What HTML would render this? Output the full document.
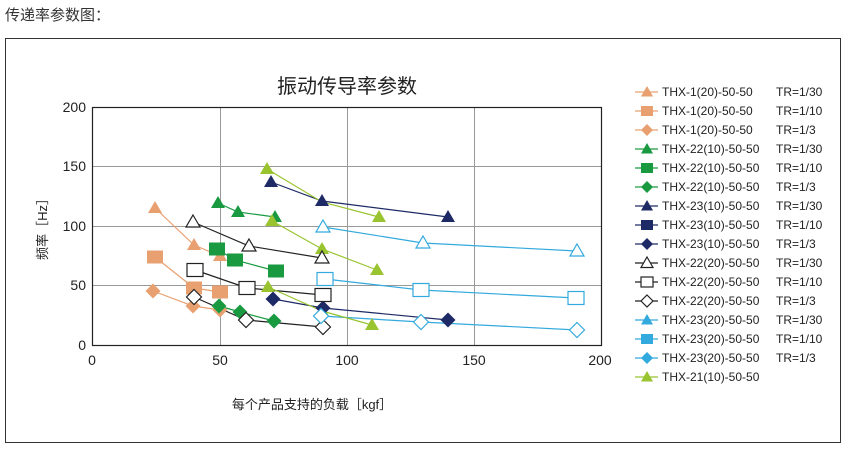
<!DOCTYPE html>
<html><head><meta charset="utf-8"><style>
html,body{margin:0;padding:0;background:#fff;}
svg{display:block;font-family:"Liberation Sans","Noto Sans CJK SC",sans-serif;}
</style></head><body>
<svg width="849" height="452" viewBox="0 0 849 452" xmlns="http://www.w3.org/2000/svg">
<defs>
<path id="tri" d="M0,-7 L7,5 L-7,5 Z"/>
<rect id="sq" x="-8" y="-6.5" width="16" height="13"/>
<path id="dia" d="M0,-7.5 L7.5,0 L0,7.5 L-7.5,0 Z"/>
<path id="ltri" d="M0,-6 L6,4.5 L-6,4.5 Z"/>
<rect id="lsq" x="-6" y="-5" width="12" height="10"/>
<path id="ldia" d="M0,-6 L6,0 L0,6 L-6,0 Z"/>
</defs>
<text x="5" y="20" font-size="15" fill="#333">传递率参数图：</text>
<rect x="5.5" y="38.5" width="835" height="404" fill="#fff" stroke="#333" stroke-width="1"/>
<text x="347" y="93" font-size="20" text-anchor="middle" fill="#222">振动传导率参数</text>
<g stroke="#999" stroke-width="1">
<line x1="220.5" y1="107" x2="220.5" y2="345"/>
<line x1="347.5" y1="107" x2="347.5" y2="345"/>
<line x1="474.5" y1="107" x2="474.5" y2="345"/>
<line x1="92" y1="166.5" x2="601" y2="166.5"/>
<line x1="92" y1="226.5" x2="601" y2="226.5"/>
<line x1="92" y1="285.5" x2="601" y2="285.5"/>
</g>
<rect x="92.5" y="107.5" width="509" height="238" fill="none" stroke="#222" stroke-width="1.2"/>
<g font-size="14" fill="#222" text-anchor="end">
<text x="86" y="112">200</text><text x="86" y="171">150</text><text x="86" y="231">100</text><text x="86" y="290">50</text><text x="86" y="350">0</text>
</g>
<g font-size="14" fill="#222" text-anchor="middle">
<text x="92" y="365">0</text><text x="220" y="365">50</text><text x="347" y="365">100</text><text x="474" y="365">150</text><text x="600" y="365">200</text>
</g>
<text transform="translate(47,226) rotate(-90)" font-size="13" text-anchor="middle" fill="#222">频率［Hz］</text>
<text x="312" y="409" font-size="13" text-anchor="middle" fill="#222">每个产品支持的负载［kgf］</text>

<g fill="none" stroke-width="1.2">
<polyline points="155,208 194,245 220,256" stroke="#e8a070"/>
<polyline points="155,257 194,288 220,292" stroke="#e8a070"/>
<polyline points="153,291 193,306 220,310" stroke="#e8a070"/>
<polyline points="218,203 238,212 275,217" stroke="#1a9a40"/>
<polyline points="217,249 235,260 276,271" stroke="#1a9a40"/>
<polyline points="219,306 240,312 274,321" stroke="#1a9a40"/>
<polyline points="271,182 322,201 448,217" stroke="#1e2a66"/>
<polyline points="273,299 323,308 448,320" stroke="#1e2a66"/>
<polyline points="193,222 249,246 322,258" stroke="#222"/>
<polyline points="195,270 247,288 323,295" stroke="#222"/>
<polyline points="194,297 246,320 323,327" stroke="#222"/>
<polyline points="323,227 423,243 577,251" stroke="#33aadd"/>
<polyline points="325,279 421,290 576,298" stroke="#33aadd"/>
<polyline points="321,316 421,322 577,330" stroke="#33aadd"/>
<polyline points="267,169 322,202 379,217" stroke="#99c430"/>
<polyline points="272,221 322,249 377,270" stroke="#99c430"/>
<polyline points="268,287 322,311 372,325" stroke="#99c430"/>
</g>
<g fill="#e8a070">
<use href="#tri" x="155" y="208"/><use href="#tri" x="194" y="245"/><use href="#tri" x="220" y="256"/>
<use href="#sq" x="155" y="257"/><use href="#sq" x="194" y="288"/><use href="#sq" x="220" y="292"/>
<use href="#dia" x="153" y="291"/><use href="#dia" x="193" y="306"/><use href="#dia" x="220" y="310"/>
</g>
<g fill="#1a9a40">
<use href="#tri" x="218" y="203"/><use href="#tri" x="238" y="212"/><use href="#tri" x="275" y="217"/>
<use href="#sq" x="217" y="249"/><use href="#sq" x="235" y="260"/><use href="#sq" x="276" y="271"/>
<use href="#dia" x="219" y="306"/><use href="#dia" x="240" y="312"/><use href="#dia" x="274" y="321"/>
</g>
<g fill="#99c430">
<use href="#tri" x="267" y="169"/><use href="#tri" x="379" y="217"/>
<use href="#tri" x="272" y="221"/><use href="#tri" x="322" y="249"/><use href="#tri" x="377" y="270"/>
<use href="#tri" x="268" y="287"/><use href="#tri" x="322" y="311"/><use href="#tri" x="372" y="325"/>
</g>
<g fill="#1e2a66">
<use href="#tri" x="271" y="182"/><use href="#tri" x="322" y="201"/><use href="#tri" x="448" y="217"/>
<use href="#dia" x="273" y="299"/><use href="#dia" x="323" y="308"/><use href="#dia" x="448" y="320"/>
</g>
<g fill="#fff" stroke="#222" stroke-width="1.2">
<use href="#tri" x="193" y="222"/><use href="#tri" x="249" y="246"/><use href="#tri" x="322" y="258"/>
<use href="#sq" x="195" y="270"/><use href="#sq" x="247" y="288"/><use href="#sq" x="323" y="295"/>
<use href="#dia" x="194" y="297"/><use href="#dia" x="246" y="320"/><use href="#dia" x="323" y="327"/>
</g>
<g fill="#fff" stroke="#33aadd" stroke-width="1.2">
<use href="#tri" x="323" y="227"/><use href="#tri" x="423" y="243"/><use href="#tri" x="577" y="251"/>
<use href="#sq" x="325" y="279"/><use href="#sq" x="421" y="290"/><use href="#sq" x="576" y="298"/>
<use href="#dia" x="321" y="316"/><use href="#dia" x="421" y="322"/><use href="#dia" x="577" y="330"/>
</g>

<g font-size="12" fill="#222" stroke-width="1.2">
<g transform="translate(0,92)"><line x1="635" x2="658" stroke="#e8a070"/><use href="#ltri" x="647" y="0" fill="#e8a070"/><text x="662" y="4">THX-1(20)-50-50</text><text x="776" y="4">TR=1/30</text></g>
<g transform="translate(0,111)"><line x1="635" x2="658" stroke="#e8a070"/><use href="#lsq" x="647" y="0" fill="#e8a070"/><text x="662" y="4">THX-1(20)-50-50</text><text x="776" y="4">TR=1/10</text></g>
<g transform="translate(0,130)"><line x1="635" x2="658" stroke="#e8a070"/><use href="#ldia" x="647" y="0" fill="#e8a070"/><text x="662" y="4">THX-1(20)-50-50</text><text x="776" y="4">TR=1/3</text></g>
<g transform="translate(0,149)"><line x1="635" x2="658" stroke="#1a9a40"/><use href="#ltri" x="647" y="0" fill="#1a9a40"/><text x="662" y="4">THX-22(10)-50-50</text><text x="776" y="4">TR=1/30</text></g>
<g transform="translate(0,168)"><line x1="635" x2="658" stroke="#1a9a40"/><use href="#lsq" x="647" y="0" fill="#1a9a40"/><text x="662" y="4">THX-22(10)-50-50</text><text x="776" y="4">TR=1/10</text></g>
<g transform="translate(0,187)"><line x1="635" x2="658" stroke="#1a9a40"/><use href="#ldia" x="647" y="0" fill="#1a9a40"/><text x="662" y="4">THX-22(10)-50-50</text><text x="776" y="4">TR=1/3</text></g>
<g transform="translate(0,206)"><line x1="635" x2="658" stroke="#1e2a66"/><use href="#ltri" x="647" y="0" fill="#1e2a66"/><text x="662" y="4">THX-23(10)-50-50</text><text x="776" y="4">TR=1/30</text></g>
<g transform="translate(0,225)"><line x1="635" x2="658" stroke="#1e2a66"/><use href="#lsq" x="647" y="0" fill="#1e2a66"/><text x="662" y="4">THX-23(10)-50-50</text><text x="776" y="4">TR=1/10</text></g>
<g transform="translate(0,244)"><line x1="635" x2="658" stroke="#1e2a66"/><use href="#ldia" x="647" y="0" fill="#1e2a66"/><text x="662" y="4">THX-23(10)-50-50</text><text x="776" y="4">TR=1/3</text></g>
<g transform="translate(0,263)"><line x1="635" x2="658" stroke="#222"/><use href="#ltri" x="647" y="0" fill="#fff" stroke="#222"/><text x="662" y="4">THX-22(20)-50-50</text><text x="776" y="4">TR=1/30</text></g>
<g transform="translate(0,282)"><line x1="635" x2="658" stroke="#222"/><use href="#lsq" x="647" y="0" fill="#fff" stroke="#222"/><text x="662" y="4">THX-22(20)-50-50</text><text x="776" y="4">TR=1/10</text></g>
<g transform="translate(0,301)"><line x1="635" x2="658" stroke="#222"/><use href="#ldia" x="647" y="0" fill="#fff" stroke="#222"/><text x="662" y="4">THX-22(20)-50-50</text><text x="776" y="4">TR=1/3</text></g>
<g transform="translate(0,320)"><line x1="635" x2="658" stroke="#33aadd"/><use href="#ltri" x="647" y="0" fill="#33aadd"/><text x="662" y="4">THX-23(20)-50-50</text><text x="776" y="4">TR=1/30</text></g>
<g transform="translate(0,339)"><line x1="635" x2="658" stroke="#33aadd"/><use href="#lsq" x="647" y="0" fill="#33aadd"/><text x="662" y="4">THX-23(20)-50-50</text><text x="776" y="4">TR=1/10</text></g>
<g transform="translate(0,358)"><line x1="635" x2="658" stroke="#33aadd"/><use href="#ldia" x="647" y="0" fill="#33aadd"/><text x="662" y="4">THX-23(20)-50-50</text><text x="776" y="4">TR=1/3</text></g>
<g transform="translate(0,377)"><line x1="635" x2="658" stroke="#99c430"/><use href="#ltri" x="647" y="0" fill="#99c430"/><text x="662" y="4">THX-21(10)-50-50</text></g>
</g>
</svg>
</body></html>
